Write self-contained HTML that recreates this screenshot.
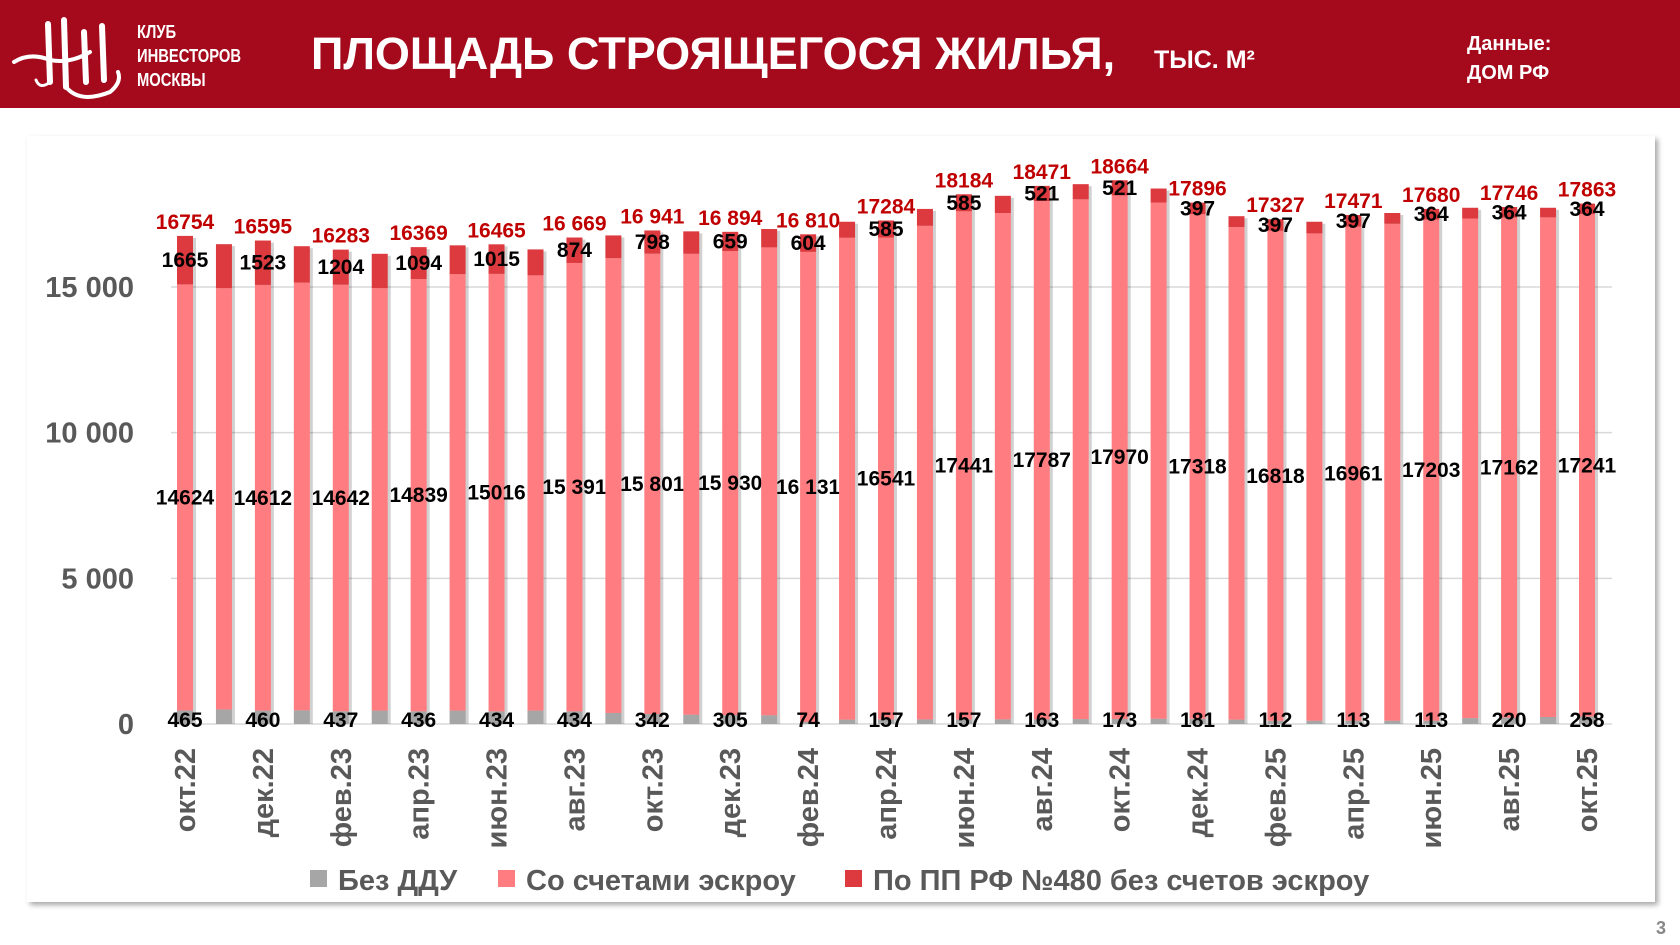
<!DOCTYPE html>
<html><head><meta charset="utf-8">
<style>
body{margin:0;width:1680px;height:945px;overflow:hidden;background:#fff;font-family:"Liberation Sans",sans-serif;position:relative}
#hdr{position:absolute;left:0;top:0;width:1680px;height:108px;background:#A50A1C}
.w{position:absolute;color:#fff;font-weight:bold}
#panel{position:absolute;left:27px;top:136px;width:1628px;height:766px;background:#fff;box-shadow:3px 3px 5px rgba(0,0,0,0.35)}
</style></head><body>
<div id="hdr">
 <svg style="position:absolute;left:10px;top:12px" width="116" height="92" viewBox="0 0 116 92">
  <g fill="none" stroke="#fff" stroke-linecap="round">
   <path d="M38 12 L40 70" stroke-width="6"/><path d="M54 8 L56 75" stroke-width="6"/>
   <path d="M74 20 L76 70" stroke-width="6"/><path d="M92 14 L94 68" stroke-width="6"/>
   <path d="M4 50 Q20 40 40 48 Q60 52 80 40" stroke-width="4"/>
   <path d="M56 75 Q70 92 100 80 Q112 70 108 60" stroke-width="4"/>
   <path d="M40 70 Q30 78 26 68" stroke-width="3"/>
  </g></svg>
 <div class="w" style="left:137px;top:20px;font-size:18px;line-height:24px;transform:scaleX(0.82);transform-origin:left">КЛУБ<br>ИНВЕСТОРОВ<br>МОСКВЫ</div>
 <div class="w" style="left:311px;top:28px;font-size:45px;white-space:nowrap">ПЛОЩАДЬ СТРОЯЩЕГОСЯ ЖИЛЬЯ,</div>
 <div class="w" style="left:1154px;top:46px;font-size:25px">ТЫС. М²</div>
 <div class="w" style="left:1467px;top:30px;font-size:20px;line-height:29px">Данные:<br>ДОМ РФ</div>
</div>
<div id="panel"></div>
<svg id="chart" width="1680" height="945" style="position:absolute;left:0;top:0"></svg>
<div style="position:absolute;left:1656px;top:918px;font-size:18px;font-weight:bold;color:#888">3</div>
<script>
const months=["окт.22","ноя.22","дек.22","янв.23","фев.23","мар.23","апр.23","май.23","июн.23","июл.23","авг.23","сен.23","окт.23","ноя.23","дек.23","янв.24","фев.24","мар.24","апр.24","май.24","июн.24","июл.24","авг.24","сен.24","окт.24","ноя.24","дек.24","янв.25","фев.25","мар.25","апр.25","май.25","июн.25","июл.25","авг.25","сен.25","окт.25"];
const noDdu=[465,500,460,470,437,460,436,460,434,460,434,380,342,320,305,300,74,150,157,157,157,160,163,170,173,180,181,150,112,113,113,113,113,200,220,240,258];
const escrow=[14624,14460,14612,14680,14642,14500,14839,14980,15016,14940,15391,15610,15801,15820,15930,16060,16131,16540,16541,16943,17441,17380,17787,17840,17970,17720,17318,16910,16818,16727,16961,17057,17203,17150,17162,17150,17241];
const other=[1665,1510,1523,1250,1204,1180,1094,990,1015,890,874,780,798,770,659,630,604,550,585,580,585,590,521,520,521,480,397,370,397,400,397,370,364,370,364,330,364];
const totalLabels=["16754","16595","16283","16369","16465","16 669","16 941","16 894","16 810","17284","18184","18471","18664","17896","17327","17471","17680","17746","17863"];
const escrowLabels=["14624","14612","14642","14839","15016","15 391","15 801","15 930","16 131","16541","17441","17787","17970","17318","16818","16961","17203","17162","17241"];
const otherLabels=["1665","1523","1204","1094","1015","874","798","659","604","585","585","521","521","397","397","397","364","364","364"];
const noDduLabels=["465","460","437","436","434","434","342","305","74","157","157","163","173","181","112","113","113","220","258"];
const yTicks=[0,5000,10000,15000];
const yTickLabels=["0","5 000","10 000","15 000"];
const legendNames=["Без ДДУ","Со счетами эскроу","По ПП РФ №480 без счетов эскроу"];

const NS="http://www.w3.org/2000/svg",svg=document.getElementById('chart');
const x0=185,x1=1587,yBase=724,pxPer=(724-287)/15000,bw=16;
const xS=i=>x0+i*(x1-x0)/(months.length-1);
const yS=v=>yBase-v*pxPer;
function mk(t,a,p){const e=document.createElementNS(NS,t);for(const k in a)e.setAttribute(k,a[k]);(p||svg).appendChild(e);return e;}
function txt(s,a){const e=mk('text',a);e.textContent=s;return e;}
yTicks.forEach((v,i)=>{
 const l=mk('line',{x1:171,x2:1612,y1:yS(v),y2:yS(v),stroke:'#d9d9d9','stroke-width':1.5});
 
 
 const t=txt(yTickLabels[i],{x:134,y:yS(v)+10,'text-anchor':'end','font-size':29,'font-weight':'bold',fill:'#595959'});
 
 
});
const cols=['#A6A6A6','#FF7C80','#DC3A3F'];
months.forEach((m,i)=>{
 const x=xS(i)-bw/2;
 const a=noDdu[i],b=escrow[i],c=other[i];
 const sh=mk('rect',{x:x+3,y:yS(a+b+c)+2,width:bw,height:yS(0)-yS(a+b+c)-2,fill:'rgba(0,0,0,0.18)'});
 
 
 const segs=[[0,a],[a,a+b],[a+b,a+b+c]];
 segs.forEach((s,k)=>{
  const r=mk('rect',{x:x,y:yS(s[1]),width:bw,height:yS(s[0])-yS(s[1]),fill:cols[k]});
  
  
 });
 if(i%2===0){
  const j=i/2,cx=xS(i);
  let t=txt(totalLabels[j],{x:cx,y:yS(a+b+c)-7,'text-anchor':'middle','font-size':21,'font-weight':'bold',fill:'#C00000'});
  
  
  t=txt(otherLabels[j],{x:cx,y:yS(a+b+c/2)+7,'text-anchor':'middle','font-size':21,'font-weight':'bold',fill:'#000'});
  
  
  t=txt(escrowLabels[j],{x:cx,y:yS(a+b/2)+7,'text-anchor':'middle','font-size':21,'font-weight':'bold',fill:'#000'});
  
  
  t=txt(noDduLabels[j],{x:cx,y:yBase+3,'text-anchor':'middle','font-size':21,'font-weight':'bold',fill:'#000'});
  
  
  t=txt(m,{x:0,y:0,'text-anchor':'end','font-size':29,'font-weight':'bold',fill:'#595959',transform:'translate('+(cx+10)+',748) rotate(-90)'});
  
  
 }
});
let lx=[310,498,845];
legendNames.forEach((n,k)=>{
 const r=mk('rect',{x:lx[k],y:870,width:17,height:17,fill:cols[k]});
 
 
 const t=txt(n,{x:lx[k]+28,y:890,'font-size':29,'font-weight':'bold',fill:'#595959'});
 
 
});
</script>
</body></html>
